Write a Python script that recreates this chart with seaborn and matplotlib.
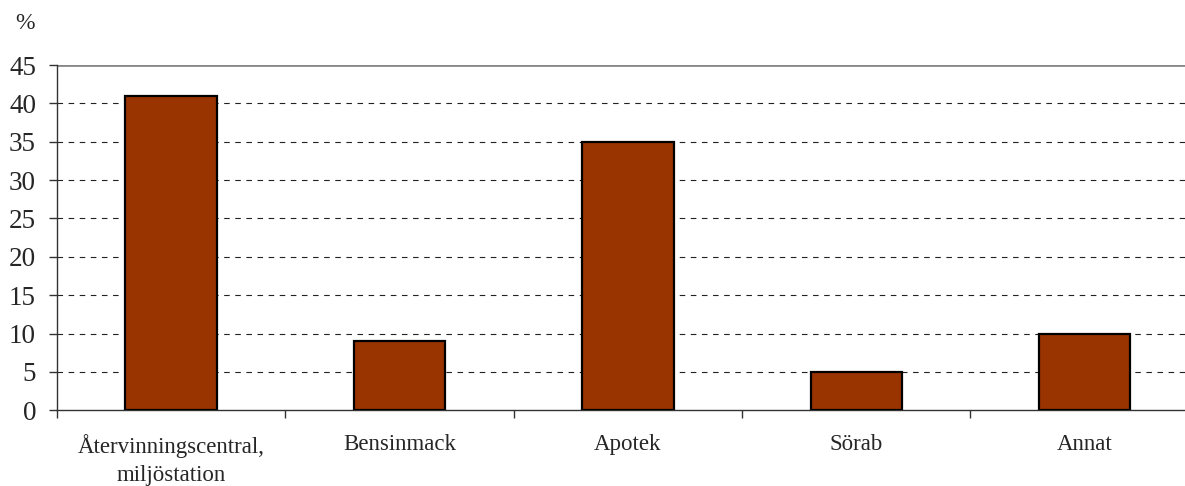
import matplotlib
matplotlib.use('Agg')
import numpy as np
import pandas as pd
import seaborn as sns
import matplotlib.pyplot as plt

sns.set_style('white')
plt.rcParams['font.family'] = ['Liberation Serif', 'DejaVu Serif']

# data
kategorier = ['Återvinningscentral,\nmiljöstation', 'Bensinmack', 'Apotek', 'Sörab', 'Annat']
andel = [41, 9, 35, 5, 10]

df = pd.DataFrame({'kategori': kategorier, 'andel': andel})

fig = plt.figure(figsize=(11.85, 4.86), dpi=100)
# högra kanten ligger utanför bilden, som i originalet
ax = fig.add_axes([0.048, 0.156, 0.9637, 0.71])

sns.barplot(data=df, x='kategori', y='andel', color='#993300', saturation=1,
            width=0.40, edgecolor='black', linewidth=1.6, ax=ax, zorder=3)

ax.set_ylim(0, 45)
ax.set_xlim(-0.5, len(kategorier) - 0.5)
ax.set_yticks(np.arange(0, 46, 5))

# gridlinjer
for y in range(5, 45, 5):
    ax.axhline(y, color='#222222', lw=0.8, ls=(0, (5, 5)), zorder=1)
ax.axhline(45, color='#888888', lw=2, zorder=1)

for s in ['top', 'right']:
    ax.spines[s].set_visible(False)
ax.spines['left'].set_color('#333333')
ax.spines['bottom'].set_color('#333333')
ax.spines['left'].set_linewidth(1)
ax.spines['bottom'].set_linewidth(1)

# tick-streck mellan kategorierna
ax.set_xticks(np.arange(-0.5, len(kategorier), 1), minor=True)
ax.tick_params(axis='x', which='minor', length=6, width=1, color='#333333', direction='out', bottom=True)
ax.tick_params(axis='x', which='major', length=0, labelsize=16.5, pad=17)
ax.tick_params(axis='y', length=6, width=1, color='#333333', direction='out', left=True, labelsize=19.5, pad=9)
for t in ax.get_xticklabels():
    t.set_linespacing(1.45)

ax.set_xlabel('')
ax.set_ylabel('')
fig.text(0.013, 0.952, '%', fontsize=17, ha='left', va='center')

fig.savefig('out.png', dpi=100)
